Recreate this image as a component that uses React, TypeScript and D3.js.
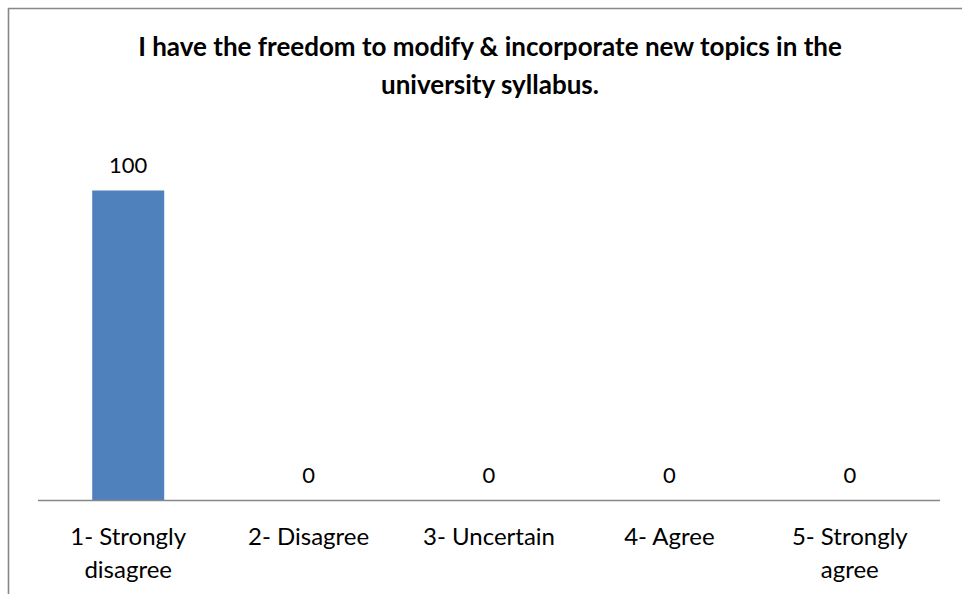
import React from "react";
import * as d3 from "d3";

const categories: string[][] = [
  ["1- Strongly", "disagree"],
  ["2- Disagree"],
  ["3- Uncertain"],
  ["4- Agree"],
  ["5- Strongly", "agree"],
];
const values: number[] = [100, 0, 0, 0, 0];
const titleLines: string[] = [
  "I have the freedom to modify & incorporate new topics in the",
  "university syllabus.",
];

const W = 962;
const H = 594;
const FONT = "Lato, 'Open Sans', sans-serif";

export default function App() {
  const band = d3.scaleBand<number>().domain(d3.range(categories.length)).range([38, 940]);
  const y = d3.scaleLinear().domain([0, 120]).range([500.5, 128.5]);

  return (
    <svg
      width={W}
      height={H}
      style={{ position: "absolute", left: 0, top: 0, background: "#fff" }}
      fontFamily={FONT}
    >
      <rect x={0} y={0} width={W} height={H} fill="#fff" />
      {/* frame */}
      <line x1={8.5} y1={8} x2={8.5} y2={H} stroke="#878787" strokeWidth={1.6} />
      <line x1={8} y1={8.5} x2={W} y2={8.5} stroke="#878787" strokeWidth={1.6} />

      {/* title */}
      <text textAnchor="middle" fontWeight="bold" fontSize={26} fill="#000">
        {titleLines.map((t, i) => (
          <tspan key={i} x={490} y={56 + i * 38}>
            {t}
          </tspan>
        ))}
      </text>

      {/* bars */}
      {values.map((v, i) => {
        const cx = band(i)! + band.bandwidth() / 2;
        const bw = 72;
        return (
          <g key={i}>
            {v > 0 && (
              <rect x={cx - bw / 2} y={y(v)} width={bw} height={y(0) - y(v)} fill="#4F81BD" />
            )}
            <text x={cx} y={y(v) - 18} textAnchor="middle" fontSize={22} fill="#000">
              {v}
            </text>
          </g>
        );
      })}

      {/* axis line */}
      <line x1={38} y1={500.5} x2={940} y2={500.5} stroke="#878787" strokeWidth={1.6} />

      {/* category labels */}
      {categories.map((lines, i) => {
        const cx = band(i)! + band.bandwidth() / 2;
        return (
          <text key={i} textAnchor="middle" fontSize={24} fill="#000">
            {lines.map((l, j) => (
              <tspan key={j} x={cx} y={545 + j * 33}>
                {l}
              </tspan>
            ))}
          </text>
        );
      })}
    </svg>
  );
}
